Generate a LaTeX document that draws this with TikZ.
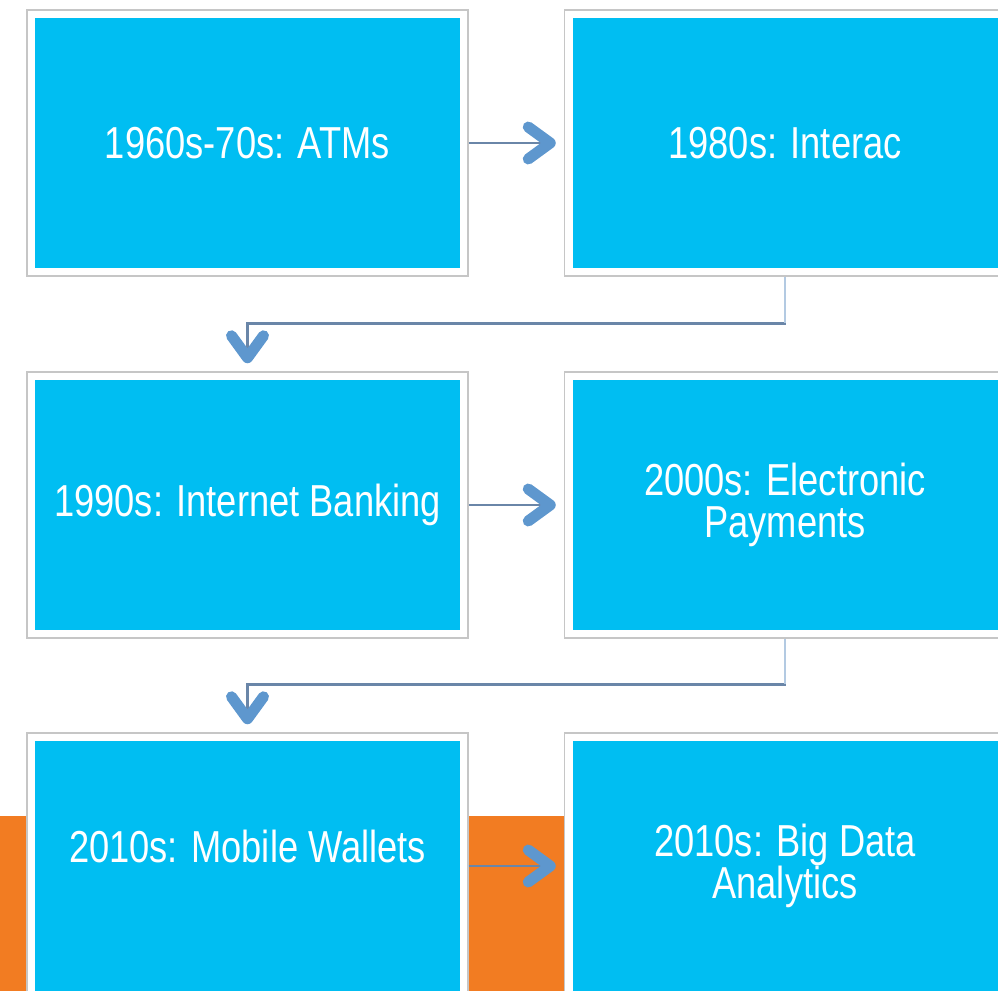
\documentclass[tikz,border=0pt]{standalone}
\usepackage{fontspec}
\setmainfont{Liberation Sans}[FakeStretch=0.81]
\usetikzlibrary{arrows.meta}
\definecolor{boxcyan}{HTML}{00BEF2}
\definecolor{bandorange}{HTML}{F27C22}
\definecolor{framegray}{HTML}{C6C6C6}
\definecolor{linkline}{HTML}{6A86A8}
\definecolor{linkdrop}{HTML}{B3CAE2}
\definecolor{chevron}{HTML}{5E97CE}

\begin{document}
\begin{tikzpicture}[x=0.5pt,y=-0.5pt,
  stage/.style={draw=framegray, line width=0.75pt, fill=white,
    minimum width=220.5pt, minimum height=133pt, inner sep=0pt,
    text=white, align=center, font=\fontsize{22.4pt}{21pt}\selectfont,
    path picture={\fill[boxcyan]
      ([shift={(4pt,4pt)}]path picture bounding box.south west) rectangle
      ([shift={(-4pt,-4pt)}]path picture bounding box.north east);}},
  link/.style={draw=linkline, line width=1.4pt,
    -{Straight Barb[length=11pt,width=16pt,line width=5.5pt,round,color=chevron]},
    shorten >=4pt},
  drop/.style={draw=linkdrop, line width=1.4pt},
]
\useasboundingbox (0,0) rectangle (998,991);
\clip (0,0) rectangle (998,991);

% orange band behind the last row
\fill[bandorange] (0,816) rectangle (998,1000);

% timeline stages
\node[stage] (atm)     at (247.5,143) {1960s-70s: ATMs};
\node[stage] (interac) at (785,143)   {1980s: Interac};
\node[stage] (web)     at (247.5,505) {1990s: Internet Banking};
\node[stage] (epay)    at (785,505)   {2000s: Electronic\\Payments};
\node[stage] (mobile)  at (247.5,866) {\raisebox{10pt}[\height][\depth]{2010s: Mobile Wallets}};
\node[stage] (bigdata) at (785,866)   {2010s: Big Data\\Analytics};

% connectors
\draw[link] (atm) -- (interac);
\draw[link] (interac.south) -- ++(0,47) -| (web.north);
\draw[drop] (interac.south) -- ++(0,46);
\draw[link] (web) -- (epay);
\draw[link] (epay.south) -- ++(0,46) -| (mobile.north);
\draw[drop] (epay.south) -- ++(0,45);
\draw[link] (mobile) -- (bigdata);
\end{tikzpicture}
\end{document}
